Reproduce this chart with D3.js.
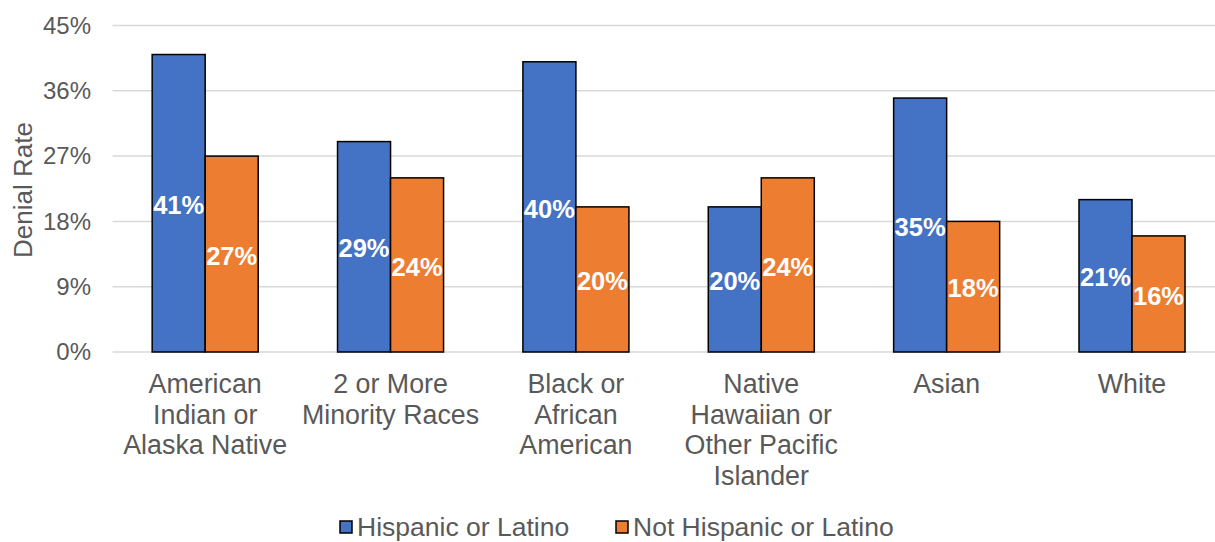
<!DOCTYPE html>
<html>
<head>
<meta charset="utf-8">
<script src="https://cdn.jsdelivr.net/npm/d3@7"></script>
<style>
  html, body { margin: 0; padding: 0; background: #fff; }
  svg { display: block; font-family: "Liberation Sans", Arial, sans-serif; }
</style>
</head>
<body>
<svg id="chart" width="1215" height="542"></svg>
<script>
// Denial rates by race, split by ethnicity (percent)
const categories = [
  ["American", "Indian or", "Alaska Native"],
  ["2 or More", "Minority Races"],
  ["Black or", "African", "American"],
  ["Native", "Hawaiian or", "Other Pacific", "Islander"],
  ["Asian"],
  ["White"]
];
const seriesNames = ["Hispanic or Latino", "Not Hispanic or Latino"];
const hispanic = [41, 29, 40, 20, 35, 21];
const notHispanic = [27, 24, 20, 24, 18, 16];
const yTicks = [0, 9, 18, 27, 36, 45];
const colors = ["#4472C4", "#ED7D31"];

const svg = d3.select("#chart");
const textColor = "#595959";

const x0 = d3.scaleBand()
  .domain(d3.range(categories.length))
  .range([112.5, 1224.7])
  .paddingInner(0.428)
  .paddingOuter(0.214);

const x1 = d3.scaleBand()
  .domain([0, 1])
  .range([0, x0.bandwidth()])
  .padding(0);

const y = d3.scaleLinear().domain([0, 45]).range([352, 25.5]);

// gridlines
svg.append("g")
  .selectAll("line")
  .data(yTicks)
  .join("line")
  .attr("x1", 112.5)
  .attr("x2", 1215)
  .attr("y1", d => y(d))
  .attr("y2", d => y(d))
  .attr("stroke", "#d9d9d9")
  .attr("stroke-width", 1.5);

// y axis tick labels
const yAxis = d3.axisLeft(y)
  .tickValues(yTicks)
  .tickFormat(d => d + "%")
  .tickSize(0)
  .tickPadding(0);
const yg = svg.append("g").attr("transform", "translate(91,0)").call(yAxis);
yg.select(".domain").remove();
yg.selectAll("text")
  .attr("fill", textColor)
  .style("font-size", "24px")
  .style("font-family", "'Liberation Sans', Arial, sans-serif");

// y axis title
svg.append("text")
  .attr("transform", "translate(32,190) rotate(-90)")
  .attr("text-anchor", "middle")
  .attr("fill", textColor)
  .style("font-size", "26px")
  .text("Denial Rate");

// bars
const rows = categories.map((c, i) => ({ i, vals: [hispanic[i], notHispanic[i]] }));
const groups = svg.append("g")
  .selectAll("g")
  .data(rows)
  .join("g")
  .attr("transform", d => `translate(${x0(d.i)},0)`);

groups.selectAll("rect")
  .data(d => d.vals.map((v, k) => ({ v, k })))
  .join("rect")
  .attr("x", d => x1(d.k))
  .attr("y", d => y(d.v))
  .attr("width", x1.bandwidth())
  .attr("height", d => y(0) - y(d.v))
  .attr("fill", d => colors[d.k])
  .attr("stroke", "#000")
  .attr("stroke-width", 1.5);

groups.selectAll("text.val")
  .data(d => d.vals.map((v, k) => ({ v, k })))
  .join("text")
  .attr("class", "val")
  .attr("x", d => x1(d.k) + x1.bandwidth() / 2)
  .attr("y", d => (y(d.v) + y(0)) / 2 + 1.5)
  .attr("dy", "0.36em")
  .attr("text-anchor", "middle")
  .attr("fill", "#fff")
  .style("font-size", "25.5px")
  .style("font-weight", "bold")
  .text(d => d.v + "%");

// category labels
const cat = svg.append("g")
  .selectAll("text")
  .data(categories)
  .join("text")
  .attr("x", (d, i) => x0(i) + x0.bandwidth() / 2)
  .attr("y", 393)
  .attr("text-anchor", "middle")
  .attr("fill", textColor)
  .style("font-size", "26.8px");
cat.selectAll("tspan")
  .data(d => d)
  .join("tspan")
  .attr("x", function () { return this.parentNode.getAttribute("x"); })
  .attr("dy", (d, j) => j === 0 ? 0 : 30.5)
  .text(d => d);

// legend
const legendX = [340, 616];
const legend = svg.append("g")
  .selectAll("g")
  .data(seriesNames)
  .join("g")
  .attr("transform", (d, i) => `translate(${legendX[i]},521)`);
legend.append("rect")
  .attr("width", 12)
  .attr("height", 12)
  .attr("fill", (d, i) => colors[i])
  .attr("stroke", "#000")
  .attr("stroke-width", 1.5);
legend.append("text")
  .attr("x", 17)
  .attr("y", 14.5)
  .attr("fill", textColor)
  .style("font-size", "26.5px")
  .text(d => d);
</script>
</body>
</html>
